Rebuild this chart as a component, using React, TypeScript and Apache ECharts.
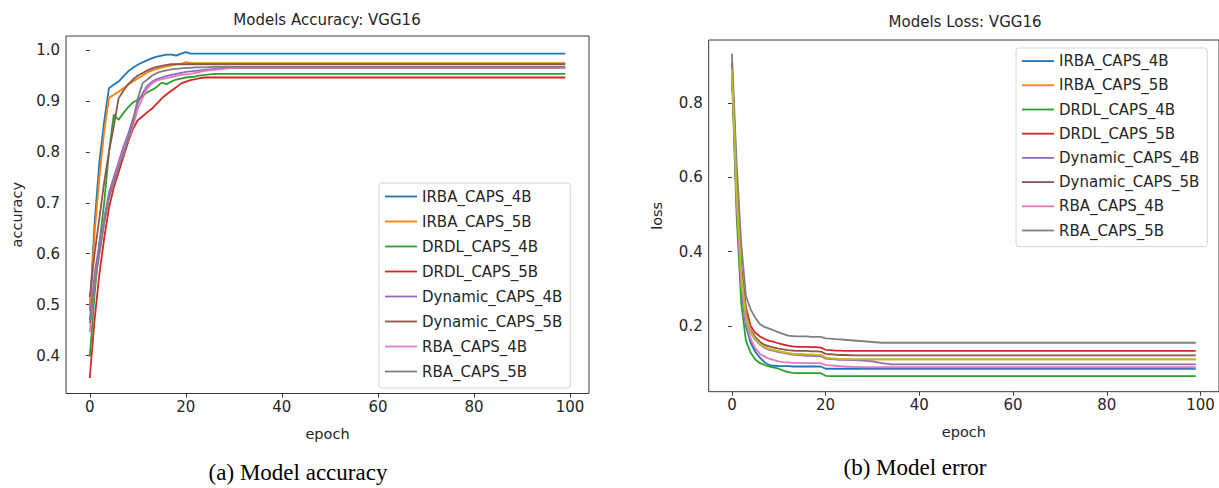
import React, { useEffect, useRef } from "react";
import * as echarts from "echarts";

// epochs at which values are read (after epoch 34 every curve is flat to epoch 99)
const EPOCHS = [0, 1, 2, 3, 4, 5, 6, 7, 8, 9, 10, 11, 12, 13, 14, 15, 16, 17, 18, 19, 20, 21, 22, 23, 24, 26, 28, 30, 32, 34, 99];

const NAMES = ["IRBA_CAPS_4B", "IRBA_CAPS_5B", "DRDL_CAPS_4B", "DRDL_CAPS_5B", "Dynamic_CAPS_4B", "Dynamic_CAPS_5B", "RBA_CAPS_4B", "RBA_CAPS_5B"];
const COLORS = ["#1f77b4", "#ff7f0e", "#2ca02c", "#d62728", "#9467bd", "#8c564b", "#e377c2", "#7f7f7f", "#bcbd22"];

const X_TICKS = [0, 20, 40, 60, 80, 100];
const ACC_TICKS = [0.4, 0.5, 0.6, 0.7, 0.8, 0.9, 1.0];
const LOSS_TICKS = [0.2, 0.4, 0.6, 0.8];

// accuracy
const ACC_IRBA_4B = [0.49, 0.66, 0.78, 0.86, 0.925, 0.932, 0.938, 0.948, 0.958, 0.965, 0.971, 0.976, 0.98, 0.984, 0.987, 0.989, 0.991, 0.991, 0.989, 0.993, 0.996, 0.993, 0.993, 0.993, 0.993, 0.993, 0.993, 0.993, 0.993, 0.993, 0.993];
const ACC_IRBA_5B = [0.487, 0.64, 0.75, 0.84, 0.906, 0.912, 0.918, 0.925, 0.932, 0.938, 0.944, 0.95, 0.956, 0.96, 0.963, 0.966, 0.968, 0.97, 0.972, 0.973, 0.976, 0.974, 0.974, 0.974, 0.974, 0.974, 0.974, 0.974, 0.974, 0.974, 0.974];
const ACC_DRDL_4B = [0.398, 0.52, 0.62, 0.7, 0.8, 0.873, 0.863, 0.876, 0.888, 0.897, 0.903, 0.91, 0.917, 0.922, 0.928, 0.936, 0.933, 0.938, 0.942, 0.944, 0.946, 0.947, 0.948, 0.95, 0.951, 0.953, 0.953, 0.953, 0.953, 0.953, 0.953];
const ACC_DRDL_5B = [0.356, 0.47, 0.56, 0.63, 0.69, 0.73, 0.76, 0.79, 0.82, 0.845, 0.862, 0.87, 0.878, 0.885, 0.895, 0.905, 0.913, 0.92, 0.927, 0.934, 0.938, 0.941, 0.943, 0.945, 0.946, 0.946, 0.946, 0.946, 0.946, 0.946, 0.946];
const ACC_DYN_4B = [0.47, 0.56, 0.62, 0.67, 0.72, 0.75, 0.78, 0.81, 0.835, 0.865, 0.895, 0.915, 0.93, 0.938, 0.943, 0.946, 0.949, 0.951, 0.953, 0.955, 0.957, 0.958, 0.959, 0.96, 0.961, 0.963, 0.965, 0.965, 0.965, 0.965, 0.965];
const ACC_DYN_5B = [0.515, 0.6, 0.67, 0.74, 0.8, 0.85, 0.905, 0.92, 0.933, 0.942, 0.95, 0.955, 0.96, 0.964, 0.967, 0.969, 0.971, 0.972, 0.972, 0.972, 0.972, 0.972, 0.972, 0.972, 0.972, 0.972, 0.972, 0.972, 0.972, 0.972, 0.972];
const ACC_RBA_4B = [0.446, 0.54, 0.6, 0.66, 0.71, 0.74, 0.775, 0.8, 0.825, 0.85, 0.885, 0.905, 0.925, 0.935, 0.94, 0.943, 0.945, 0.947, 0.949, 0.951, 0.952, 0.953, 0.955, 0.957, 0.959, 0.961, 0.963, 0.965, 0.965, 0.965, 0.965];
const ACC_RBA_5B = [0.463, 0.54, 0.6, 0.66, 0.71, 0.74, 0.77, 0.795, 0.825, 0.86, 0.905, 0.935, 0.942, 0.95, 0.955, 0.958, 0.96, 0.962, 0.963, 0.964, 0.965, 0.965, 0.966, 0.966, 0.966, 0.967, 0.967, 0.967, 0.967, 0.967, 0.967];

// loss
const LOSS_IRBA_4B = [0.9, 0.53, 0.3, 0.2, 0.155, 0.13, 0.115, 0.102, 0.095, 0.093, 0.092, 0.092, 0.092, 0.091, 0.091, 0.091, 0.091, 0.091, 0.091, 0.091, 0.085, 0.085, 0.085, 0.085, 0.085, 0.085, 0.085, 0.085, 0.085, 0.085, 0.085];
const LOSS_IRBA_5B = [0.89, 0.57, 0.34, 0.23, 0.185, 0.165, 0.152, 0.143, 0.138, 0.135, 0.132, 0.13, 0.127, 0.125, 0.124, 0.124, 0.123, 0.123, 0.122, 0.122, 0.115, 0.113, 0.112, 0.111, 0.111, 0.11, 0.11, 0.11, 0.11, 0.11, 0.11];
const LOSS_DRDL_4B = [0.88, 0.5, 0.26, 0.16, 0.128, 0.11, 0.1, 0.095, 0.091, 0.088, 0.085, 0.08, 0.076, 0.074, 0.073, 0.073, 0.073, 0.073, 0.073, 0.073, 0.066, 0.065, 0.065, 0.065, 0.065, 0.065, 0.065, 0.065, 0.065, 0.065, 0.065];
const LOSS_DRDL_5B = [0.91, 0.6, 0.36, 0.25, 0.2, 0.182, 0.172, 0.165, 0.16, 0.157, 0.153, 0.15, 0.147, 0.145, 0.144, 0.144, 0.144, 0.143, 0.143, 0.142, 0.136, 0.135, 0.134, 0.134, 0.133, 0.133, 0.133, 0.133, 0.133, 0.133, 0.133];
const LOSS_DYN_4B = [0.9, 0.57, 0.34, 0.23, 0.183, 0.163, 0.15, 0.141, 0.136, 0.133, 0.13, 0.128, 0.125, 0.123, 0.122, 0.121, 0.12, 0.12, 0.119, 0.119, 0.112, 0.111, 0.11, 0.109, 0.109, 0.108, 0.107, 0.105, 0.1, 0.097, 0.097];
const LOSS_DYN_5B = [0.9, 0.58, 0.35, 0.24, 0.19, 0.17, 0.157, 0.149, 0.145, 0.142, 0.139, 0.137, 0.135, 0.134, 0.133, 0.133, 0.133, 0.132, 0.132, 0.131, 0.125, 0.124, 0.123, 0.122, 0.122, 0.121, 0.121, 0.121, 0.121, 0.121, 0.121];
const LOSS_RBA_4B = [0.9, 0.54, 0.31, 0.21, 0.165, 0.14, 0.125, 0.117, 0.112, 0.108, 0.105, 0.103, 0.102, 0.101, 0.101, 0.1, 0.1, 0.1, 0.1, 0.1, 0.095, 0.094, 0.093, 0.092, 0.091, 0.09, 0.089, 0.089, 0.089, 0.089, 0.089];
const LOSS_RBA_5B = [0.933, 0.64, 0.42, 0.28, 0.245, 0.222, 0.205, 0.197, 0.193, 0.188, 0.183, 0.178, 0.174, 0.173, 0.172, 0.172, 0.172, 0.171, 0.171, 0.171, 0.167, 0.166, 0.165, 0.164, 0.163, 0.161, 0.159, 0.157, 0.155, 0.155, 0.155];
// an extra (unlabelled) olive curve drawn on top in the loss panel
const LOSS_EXTRA = [0.89, 0.57, 0.34, 0.23, 0.185, 0.165, 0.152, 0.143, 0.138, 0.135, 0.132, 0.13, 0.127, 0.125, 0.124, 0.124, 0.123, 0.123, 0.122, 0.122, 0.115, 0.113, 0.112, 0.111, 0.111, 0.11, 0.11, 0.11, 0.11, 0.11, 0.11];

const ACC = [ACC_IRBA_4B, ACC_IRBA_5B, ACC_DRDL_4B, ACC_DRDL_5B, ACC_DYN_4B, ACC_DYN_5B, ACC_RBA_4B, ACC_RBA_5B];
const LOSS = [LOSS_IRBA_4B, LOSS_IRBA_5B, LOSS_DRDL_4B, LOSS_DRDL_5B, LOSS_DYN_4B, LOSS_DYN_5B, LOSS_RBA_4B, LOSS_RBA_5B];

const FONT = "DejaVu Sans";
const TXT = "#262626";
const SPINE = "#3a3a3a";
const LW = 1.8;

function pairs(vals: number[]) {
  return vals.map((v, i) => [EPOCHS[i], v]);
}

function axisX(gridIndex: number) {
  return {
    gridIndex,
    type: "value",
    min: -4.95,
    max: 103.95,
    axisLine: { show: false },
    splitLine: { show: false },
    axisTick: { show: true, customValues: X_TICKS, length: 4, lineStyle: { color: SPINE, width: 1 } },
    axisLabel: { customValues: X_TICKS, fontFamily: FONT, fontSize: 15, color: TXT, margin: 6 },
    name: "epoch",
    nameLocation: "middle",
    nameGap: 33,
    nameTextStyle: { fontFamily: FONT, fontSize: 14.5, color: TXT },
  };
}

function axisY(gridIndex: number, min: number, max: number, ticks: number[], name: string, gap: number) {
  return {
    gridIndex,
    type: "value",
    min,
    max,
    axisLine: { show: false },
    splitLine: { show: false },
    axisTick: { show: true, customValues: ticks, length: 4, lineStyle: { color: SPINE, width: 1 } },
    axisLabel: {
      customValues: ticks,
      fontFamily: FONT,
      fontSize: 15,
      color: TXT,
      margin: 6,
      formatter: (v: number) => v.toFixed(1),
    },
    name,
    nameLocation: "middle",
    nameGap: gap,
    nameTextStyle: { fontFamily: FONT, fontSize: 14.5, color: TXT },
  };
}

function legend(left: number, top: number, lh: number) {
  return {
    data: NAMES,
    orient: "vertical",
    left,
    top,
    icon: "rect",
    itemWidth: 32,
    itemHeight: 1.8,
    itemGap: 0,
    itemStyle: { borderWidth: 0 },
    textStyle: { fontFamily: FONT, fontSize: 15, color: TXT, lineHeight: lh },
    backgroundColor: "#fff",
    borderColor: "#d6d6d6",
    borderWidth: 1,
    borderRadius: 3,
    padding: [1, 8, 4, 6],
    itemTextGap: 11,
    selectedMode: false,
  };
}

export default function App() {
  const ref = useRef<HTMLDivElement>(null);
  useEffect(() => {
    if (!ref.current) return;
    const chart = echarts.init(ref.current, undefined, { renderer: "svg" });
    const series: any[] = [];
    NAMES.forEach((n, i) => {
      series.push({
        name: n,
        type: "line",
        xAxisIndex: 0,
        yAxisIndex: 0,
        data: pairs(ACC[i]),
        showSymbol: false,
        symbol: "none",
        color: COLORS[i],
        lineStyle: { width: LW, color: COLORS[i] },
        z: 2 + i,
      });
    });
    NAMES.forEach((n, i) => {
      series.push({
        name: n,
        type: "line",
        xAxisIndex: 1,
        yAxisIndex: 1,
        data: pairs(LOSS[i]),
        showSymbol: false,
        symbol: "none",
        color: COLORS[i],
        lineStyle: { width: LW, color: COLORS[i] },
        z: 2 + i,
      });
    });
    series.push({
      name: "",
      type: "line",
      xAxisIndex: 1,
      yAxisIndex: 1,
      data: pairs(LOSS_EXTRA),
      showSymbol: false,
      symbol: "none",
      color: COLORS[8],
      lineStyle: { width: LW, color: COLORS[8] },
      z: 11,
    });

    chart.setOption({
      animation: false,
      backgroundColor: "#fff",
      grid: [
        { left: 66, top: 36, width: 523, height: 357.5, show: true, borderColor: SPINE, borderWidth: 1, backgroundColor: "transparent" },
        { left: 708.7, top: 40, width: 512, height: 351.7, show: true, borderColor: SPINE, borderWidth: 1, backgroundColor: "transparent" },
      ],
      xAxis: [axisX(0), axisX(1)],
      yAxis: [
        axisY(0, 0.3255, 1.0275, ACC_TICKS, "accuracy", 42),
        axisY(1, 0.0232, 0.970, LOSS_TICKS, "loss", 44),
      ],
      legend: [legend(379, 183, 25), legend(1016, 48, 24.2)],
      series,
      graphic: [
        {
          type: "text",
          x: 327,
          y: 20,
          style: { text: "Models Accuracy: VGG16", fontFamily: FONT, fontSize: 15, fill: TXT, align: "center", verticalAlign: "middle" },
        },
        {
          type: "text",
          x: 965,
          y: 22,
          style: { text: "Models Loss: VGG16", fontFamily: FONT, fontSize: 15, fill: TXT, align: "center", verticalAlign: "middle" },
        },
        {
          type: "text",
          x: 298,
          y: 472,
          style: { text: "(a) Model accuracy", fontFamily: "Liberation Serif", fontSize: 23, fill: "#000", align: "center", verticalAlign: "middle" },
        },
        {
          type: "text",
          x: 915,
          y: 467,
          style: { text: "(b) Model error", fontFamily: "Liberation Serif", fontSize: 23, fill: "#000", align: "center", verticalAlign: "middle" },
        },
      ],
    });
    return () => chart.dispose();
  }, []);
  return <div ref={ref} style={{ position: "absolute", left: 0, top: 0, width: 1219, height: 488 }} />;
}
